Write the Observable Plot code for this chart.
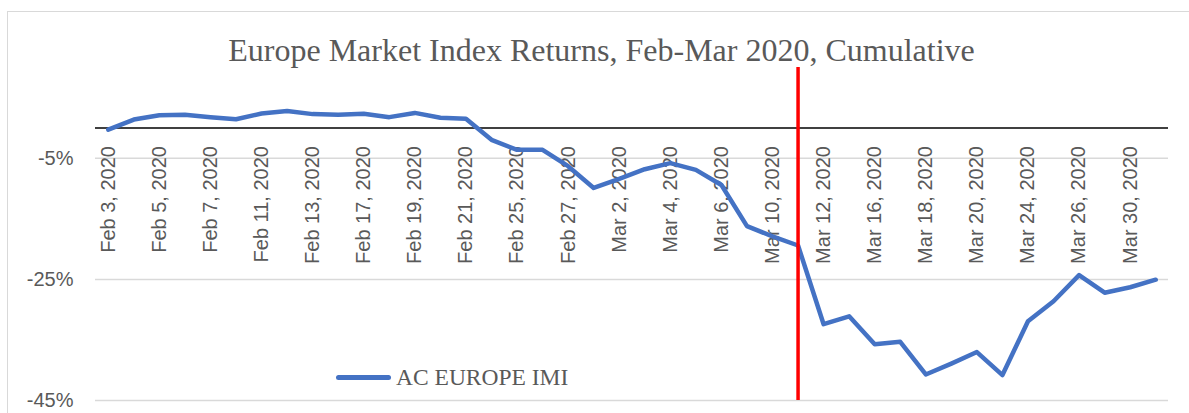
<!DOCTYPE html>
<html>
<head>
<meta charset="utf-8">
<script src="https://cdn.jsdelivr.net/npm/d3@7"></script>
<script src="https://cdn.jsdelivr.net/npm/@observablehq/plot@0.6"></script>
<style>
  html, body { margin: 0; padding: 0; background: #fff; }
  #wrap { position: relative; width: 1189px; height: 413px; overflow: hidden; background: #fff; }
  #frame { position: absolute; left: 7px; top: 11px; width: 1250px; height: 500px; border: 1px solid #d9d9d9; box-sizing: border-box; }
  #title { position: absolute; left: 0; top: 34px; width: 1203px; text-align: center; font-family: "Liberation Serif", "Times New Roman", serif; font-size: 32px; line-height: 32px; color: #595959; white-space: nowrap; }
  #chart { position: absolute; left: 0; top: 67px; }
  #legend { position: absolute; left: 336px; top: 364px; display: flex; align-items: center; font-family: "Liberation Serif", "Times New Roman", serif; font-size: 23.5px; color: #595959; white-space: nowrap; }
  #legend .swatch { width: 55px; height: 5px; border-radius: 3px; background: #4472C4; margin-right: 5px; }
</style>
</head>
<body>
<div id="wrap">
  <div id="frame"></div>
  <div id="title">Europe Market Index Returns, Feb-Mar 2020, Cumulative</div>
  <div id="chart"></div>
  <div id="legend"><span class="swatch"></span><span id="legendText"></span></div>
</div>
<script>
// Trading days (categories)
const dates = [
  "Feb 3, 2020", "Feb 4, 2020", "Feb 5, 2020", "Feb 6, 2020", "Feb 7, 2020",
  "Feb 10, 2020", "Feb 11, 2020", "Feb 12, 2020", "Feb 13, 2020", "Feb 14, 2020",
  "Feb 17, 2020", "Feb 18, 2020", "Feb 19, 2020", "Feb 20, 2020", "Feb 21, 2020",
  "Feb 24, 2020", "Feb 25, 2020", "Feb 26, 2020", "Feb 27, 2020", "Feb 28, 2020",
  "Mar 2, 2020", "Mar 3, 2020", "Mar 4, 2020", "Mar 5, 2020", "Mar 6, 2020",
  "Mar 9, 2020", "Mar 10, 2020", "Mar 11, 2020", "Mar 12, 2020", "Mar 13, 2020",
  "Mar 16, 2020", "Mar 17, 2020", "Mar 18, 2020", "Mar 19, 2020", "Mar 20, 2020",
  "Mar 23, 2020", "Mar 24, 2020", "Mar 25, 2020", "Mar 26, 2020", "Mar 27, 2020",
  "Mar 30, 2020", "Mar 31, 2020"
];
// Cumulative return, percent (AC EUROPE IMI)
const acEuropeIMI = [
  -0.25, 1.4, 2.1, 2.2, 1.8,
  1.45, 2.4, 2.8, 2.3, 2.2,
  2.35, 1.8, 2.5, 1.7, 1.55,
  -1.95, -3.6, -3.6, -6.3, -9.9,
  -8.4, -6.8, -5.8, -6.9, -9.4,
  -16.2, -17.9, -19.4, -32.4, -31.1,
  -35.7, -35.3, -40.7, -38.9, -37.0,
  -40.8, -31.9, -28.6, -24.3, -27.2,
  -26.3, -25.05
];
// Category axis tick labels (every other trading day)
const xTickLabels = [
  "Feb 3, 2020", "Feb 5, 2020", "Feb 7, 2020", "Feb 11, 2020", "Feb 13, 2020",
  "Feb 17, 2020", "Feb 19, 2020", "Feb 21, 2020", "Feb 25, 2020", "Feb 27, 2020",
  "Mar 2, 2020", "Mar 4, 2020", "Mar 6, 2020", "Mar 10, 2020", "Mar 12, 2020",
  "Mar 16, 2020", "Mar 18, 2020", "Mar 20, 2020", "Mar 24, 2020", "Mar 26, 2020",
  "Mar 30, 2020"
];
const yTicks = [-45, -25, -5];
const yDomain = [-45, 10];
const markerDate = ["Mar 11, 2020"];
const seriesName = "AC EUROPE IMI";

const data = dates.map((d, i) => ({date: d, value: acEuropeIMI[i]}));

document.getElementById("legendText").textContent = seriesName;

const chart = Plot.plot({
  width: 1189,
  height: 346,
  marginLeft: 95,
  marginRight: 21,
  marginTop: 0,
  marginBottom: 13,
  style: {fontFamily: "'Liberation Sans', Arial, sans-serif", fontSize: "20px", color: "#595959", background: "transparent", overflow: "visible"},
  x: {type: "point", domain: dates, padding: 0.5, round: false, axis: null},
  y: {domain: yDomain, axis: null},
  marks: [
    Plot.ruleY(yTicks, {stroke: "#d9d9d9", strokeWidth: 1.5}),
    Plot.axisY({ticks: yTicks, tickSize: 0, tickPadding: 22, tickFormat: d => d + "%", label: null, fontSize: 20}),
    Plot.ruleY([0], {stroke: "#000", strokeWidth: 1.6}),
    Plot.text(xTickLabels, {x: d => d, y: () => 0, text: d => d, rotate: -90, textAnchor: "end", dy: 18, fill: "#595959", fontSize: 20}),
    Plot.line(data, {x: "date", y: "value", stroke: "#4472C4", strokeWidth: 4.5, strokeLinejoin: "round", strokeLinecap: "round"}),
    Plot.ruleX(markerDate, {stroke: "#FF0000", strokeWidth: 3.5})
  ]
});
document.getElementById("chart").appendChild(chart);
</script>
</body>
</html>
